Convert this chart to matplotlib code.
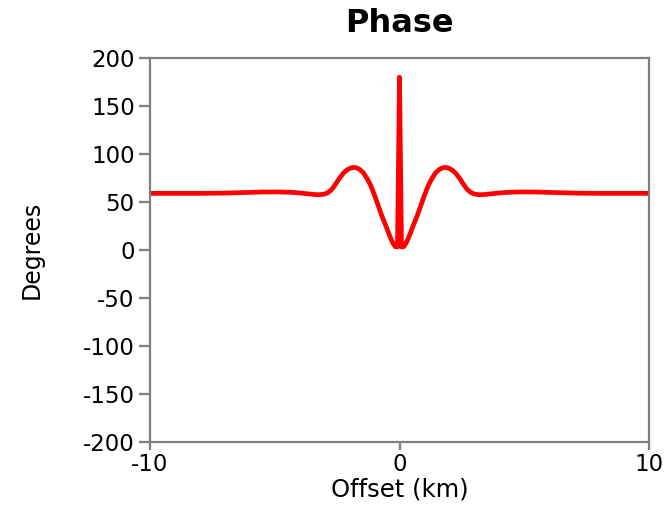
import matplotlib
matplotlib.use("Agg")
import matplotlib.pyplot as plt

# Phase profile across the survey line (symmetric about zero offset)
offset_km = [-10.0, -9.0, -8.0, -7.0, -6.0, -5.5, -5.0, -4.6, -4.3, -4.0,
             -3.7, -3.4, -3.2, -3.0, -2.85, -2.7, -2.55, -2.4, -2.25, -2.1,
             -1.95, -1.85, -1.75, -1.6, -1.45, -1.3, -1.15, -1.0, -0.85,
             -0.7, -0.55, -0.45, -0.35, -0.25, -0.17, -0.08,
             0.0,
             0.08, 0.17, 0.25, 0.35, 0.45, 0.55, 0.7, 0.85, 1.0, 1.15, 1.3,
             1.45, 1.6, 1.75, 1.85, 1.95, 2.1, 2.25, 2.4, 2.55, 2.7, 2.85,
             3.0, 3.2, 3.4, 3.7, 4.0, 4.3, 4.6, 5.0, 5.5, 6.0, 7.0, 8.0, 9.0,
             10.0]
phase_deg = [59.0, 59.0, 59.0, 59.3, 60.0, 60.4, 60.5, 60.3, 60.0, 59.4,
             58.6, 57.8, 57.6, 58.3, 60.0, 63.5, 69.0, 75.0, 80.0, 83.5,
             85.5, 86.0, 85.8, 84.0, 80.5, 74.5, 67.0, 57.0, 46.0,
             35.0, 25.5, 18.5, 12.0, 6.5, 3.5, 3.2,
             180.0,
             3.2, 3.5, 6.5, 12.0, 18.5, 25.5, 35.0, 46.0, 57.0, 67.0, 74.5,
             80.5, 84.0, 85.8, 86.0, 85.5, 83.5, 80.0, 75.0, 69.0, 63.5, 60.0,
             58.3, 57.6, 57.8, 58.6, 59.4, 60.0, 60.3, 60.5, 60.4, 60.0, 59.3,
             59.0, 59.0, 59.0]

x_ticks = [-10, 0, 10]
y_ticks = [-200, -150, -100, -50, 0, 50, 100, 150, 200]

plt.rcParams["font.family"] = ["DejaVu Sans"]
plt.rcParams["axes.unicode_minus"] = False

fig = plt.figure(figsize=(6.71, 5.07), dpi=100)
ax = fig.add_axes([150 / 671, 1 - 442 / 507, 499 / 671, 384 / 507])

ax.plot(offset_km, phase_deg, color="#ff0000", linewidth=3.4,
        solid_joinstyle="round", solid_capstyle="butt")

ax.set_xlim(-10, 10)
ax.set_ylim(-200, 200)
ax.set_xticks(x_ticks)
ax.set_yticks(y_ticks)

spine_gray = "#7f7f7f"
for side in ["left", "right", "top", "bottom"]:
    ax.spines[side].set_color(spine_gray)
    ax.spines[side].set_linewidth(1.6)

ax.tick_params(axis="both", direction="out", color=spine_gray, width=1.6,
               labelcolor="black", labelsize=16.5)
ax.tick_params(axis="y", length=8, pad=3)
ax.tick_params(axis="x", length=6, pad=2)

ax.set_title("Phase", fontsize=23, fontweight="bold", pad=19)
ax.set_xlabel("Offset (km)", fontsize=17.5, labelpad=1)
ax.set_ylabel("Degrees", fontsize=17, labelpad=28)

fig.savefig("out.png", dpi=100)
